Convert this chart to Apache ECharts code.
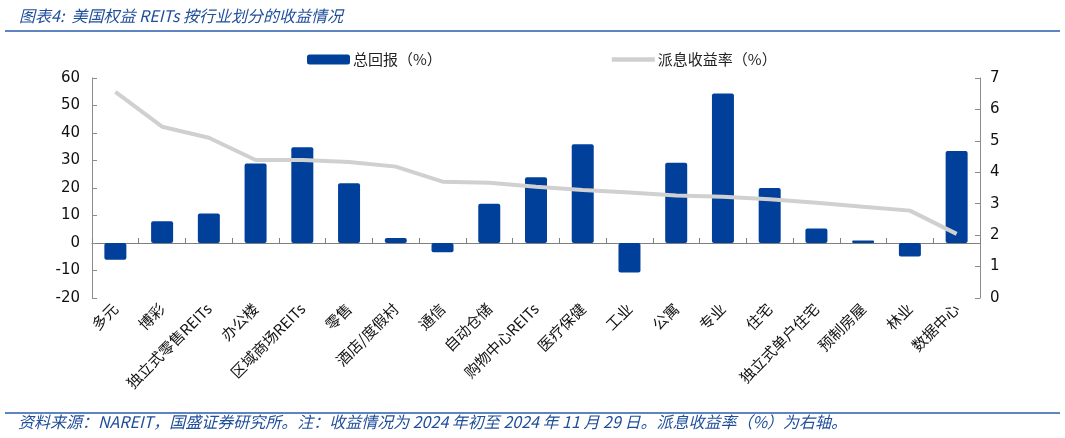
<!DOCTYPE html>
<html>
<head>
<meta charset="utf-8">
<script src="https://cdn.jsdelivr.net/npm/echarts@6/dist/echarts.min.js"></script>
<style>
  html, body { margin: 0; padding: 0; background: #fff; }
  #main { width: 1065px; height: 438px; }
</style>
</head>
<body>
<div id="main"></div>
<script>
  // categories and values
  let categories = ['多元', '博彩', '独立式零售REITs', '办公楼', '区域商场REITs', '零售', '酒店/度假村', '通信',
      '自动仓储', '购物中心REITs', '医疗保健', '工业', '公寓', '专业', '住宅', '独立式单户住宅', '预制房屋', '林业', '数据中心'];
  let totalReturn = [-6.1, 7.9, 10.7, 28.9, 34.8, 21.7, 1.8, -3.4, 14.3, 23.9, 35.9, -10.7, 29.2, 54.4, 20.0, 5.3, 0.9, -4.9, 33.5];
  let dividendYield = [6.56, 5.45, 5.10, 4.39, 4.39, 4.33, 4.18, 3.70, 3.67, 3.54, 3.44, 3.36, 3.26, 3.22, 3.14, 3.03, 2.90, 2.78, 2.04];

  let blue = '#00409a';
  let textFont = '"Noto Sans CJK SC", "DejaVu Sans", sans-serif';
  let numFont = '"DejaVu Sans", Verdana, sans-serif';

  let chart = echarts.init(document.getElementById('main'));

  let option = {
      animation: false,
      backgroundColor: '#fff',
      title: {
          text: '图表4:  美国权益 REITs 按行业划分的收益情况',
          left: 14,
          top: 3,
          textStyle: {
              fontSize: 16,
              fontStyle: 'italic',
              fontWeight: 'normal',
              color: '#1f4e9a',
              fontFamily: textFont
          }
      },
      graphic: [
          {type: 'line', shape: {x1: 5, y1: 31, x2: 1060, y2: 31}, style: {stroke: '#2a5cad', lineWidth: 1.5}},
          {type: 'line', shape: {x1: 5, y1: 413, x2: 1060, y2: 413}, style: {stroke: '#2a5cad', lineWidth: 1.5}},
          {
              type: 'text', left: 18, top: 414,
              style: {
                  text: '资料来源：NAREIT，国盛证券研究所。注：收益情况为 2024 年初至 2024 年 11 月 29 日。派息收益率（%）为右轴。',
                  font: 'italic 16px ' + textFont,
                  fill: '#1f4e9a'
              }
          }
      ],
      legend: {
          top: 47,
          left: 302,
          itemGap: 170,
          itemWidth: 43,
          itemHeight: 10,
          textStyle: {fontSize: 15, color: '#222', fontFamily: textFont, padding: [0, 0, 0, -2]},
          data: [
              {name: '总回报（%）', icon: 'roundRect'},
              {name: '派息收益率（%）', icon: 'path://M0,0 H40 V4 H0 Z'}
          ]
      },
      grid: {
          left: 92,
          right: 85,
          top: 78,
          bottom: 140
      },
      xAxis: {
          type: 'category',
          data: categories,
          axisLine: {onZero: true, lineStyle: {color: '#7f7f7f', width: 1}},
          axisTick: {show: true, inside: true, length: 5, lineStyle: {color: '#7f7f7f'}},
          axisLabel: {
              interval: 0,
              rotate: 45,
              margin: 8,
              fontSize: 15,
              color: '#111',
              fontFamily: textFont
          }
      },
      yAxis: [
          {
              type: 'value',
              min: -20,
              max: 60,
              interval: 10,
              splitLine: {show: false},
              axisLine: {show: true, lineStyle: {color: '#8c8c8c'}},
              axisTick: {show: true, inside: true, length: 5, lineStyle: {color: '#8c8c8c'}},
              axisLabel: {fontSize: 15, color: '#111', fontFamily: numFont, margin: 12}
          },
          {
              type: 'value',
              min: 0,
              max: 7,
              interval: 1,
              position: 'right',
              splitLine: {show: false},
              axisLine: {show: true, lineStyle: {color: '#8c8c8c'}},
              axisTick: {show: true, inside: true, length: 5, lineStyle: {color: '#8c8c8c'}},
              axisLabel: {fontSize: 15, color: '#111', fontFamily: numFont, margin: 10}
          }
      ],
      series: [
          {
              name: '总回报（%）',
              type: 'bar',
              barWidth: 22,
              yAxisIndex: 0,
              itemStyle: {color: blue, borderRadius: 2},
              data: totalReturn
          },
          {
              name: '派息收益率（%）',
              type: 'line',
              yAxisIndex: 1,
              symbol: 'none',
              lineStyle: {color: '#d0d0d0', width: 4},
              itemStyle: {color: '#d0d0d0'},
              data: dividendYield
          }
      ]
  };

  chart.setOption(option);
  window.onresize = () => {
      chart.resize();
  };
</script>
</body>
</html>
